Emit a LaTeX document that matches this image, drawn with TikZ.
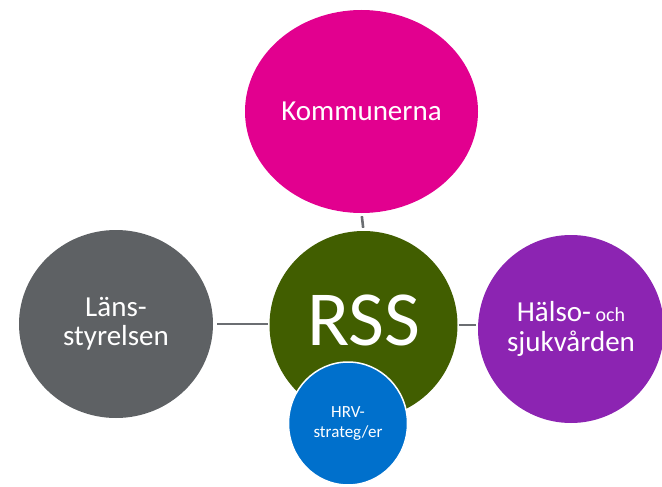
\documentclass[tikz,border=0pt]{standalone}
\usepackage{fontspec}
\setmainfont{Carlito}
\usetikzlibrary{shapes.geometric}
\definecolor{kommc}{HTML}{E2008F}
\definecolor{rssc}{HTML}{415E00}
\definecolor{lansc}{HTML}{5E6164}
\definecolor{halsoc}{HTML}{8C24B2}
\definecolor{hrvc}{HTML}{0070CC}
\definecolor{linkc}{HTML}{6B6E72}
\tikzset{
  blob/.style={ellipse, inner sep=0pt, text=white, align=center},
  link/.style={draw=linkc, line width=2.6pt},
}
\begin{document}
\begin{tikzpicture}[x=1pt,y=-1pt]
\useasboundingbox (0,0) rectangle (662,487);
\node[blob, fill=kommc, minimum width=233pt, minimum height=203pt,
      font=\fontsize{29}{30}\selectfont] (komm) at (361.5,111.5) {Kommunerna};
\node[blob, fill=rssc, minimum width=188pt, minimum height=188pt, text depth=10pt,
      font=\fontsize{78}{80}\selectfont] (rss) at (363.5,325) {RSS};
\node[blob, fill=lansc, minimum width=194pt, minimum height=188pt,
      font=\fontsize{29}{29}\selectfont] (lans) at (116,324) {Läns-\\styrelsen};
\node[blob, fill=halsoc, minimum width=186pt, minimum height=188pt,
      font=\fontsize{29}{30}\selectfont] (halso) at (571,329) {Hälso-{\fontsize{20}{20}\selectfont\ och}\\sjukvården};
\node[blob, fill=hrvc, draw=white, line width=1.5pt, minimum width=119pt, minimum height=123pt,
      font=\fontsize{17}{19.5}\selectfont] (hrv) at (348,423.5) {HRV-\\strateg/er};
\draw[link, shorten <=3pt, shorten >=3pt] (komm.south) -- (rss.north);
\draw[link, shorten <=4pt, shorten >=1pt] (lans.east) -- (lans.east -| rss.west);
\draw[link, shorten <=1pt, shorten >=2pt] (rss.east) -- (rss.east -| halso.west);
\end{tikzpicture}
\end{document}
